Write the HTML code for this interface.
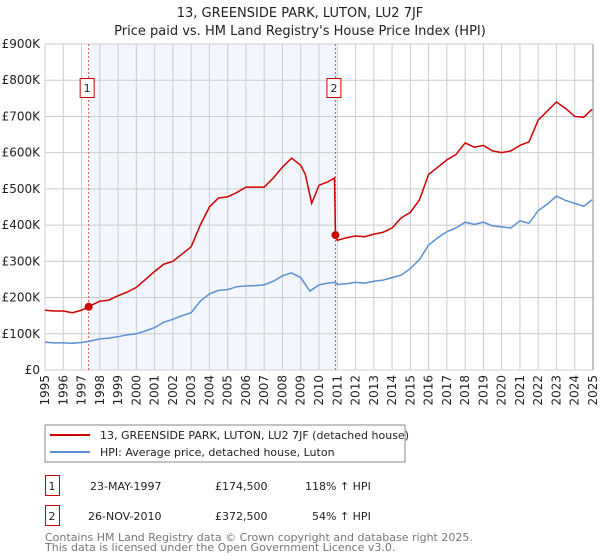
<!DOCTYPE html>
<html><head><meta charset="utf-8"><style>
body{margin:0;background:#fff;font-family:"Liberation Sans","DejaVu Sans",sans-serif;}
svg{display:block}
</style></head><body>
<svg id="chart" width="600" height="560" xmlns="http://www.w3.org/2000/svg" font-family="DejaVu Sans, Liberation Sans, sans-serif">
<text x="300" y="17" text-anchor="middle" font-size="13" fill="#222">13, GREENSIDE PARK, LUTON, LU2 7JF</text>
<text x="300" y="35" text-anchor="middle" font-size="13" fill="#222">Price paid vs. HM Land Registry's House Price Index (HPI)</text>
<g id="plot"></g>
<g>
<rect x="45" y="425" width="360" height="37" fill="#fff" stroke="#888"/>
<line x1="50" y1="435" x2="90" y2="435" stroke="#cc0000" stroke-width="2"/>
<text x="100" y="439" font-size="11" fill="#222">13, GREENSIDE PARK, LUTON, LU2 7JF (detached house)</text>
<line x1="50" y1="452" x2="90" y2="452" stroke="#5b8fd4" stroke-width="2"/>
<text x="100" y="456" font-size="11" fill="#222">HPI: Average price, detached house, Luton</text>
</g>
<g font-size="11" fill="#222">
<rect x="45.5" y="475.5" width="14" height="20" fill="#fff" stroke="#cc0000"/>
<text x="52" y="490" text-anchor="middle">1</text>
<text x="90" y="490">23-MAY-1997</text>
<text x="215" y="490">£174,500</text>
<text x="305" y="490">118% ↑ HPI</text>
<rect x="45.5" y="505.5" width="14" height="20" fill="#fff" stroke="#cc0000"/>
<text x="52" y="520" text-anchor="middle">2</text>
<text x="88" y="520">26-NOV-2010</text>
<text x="215" y="520">£372,500</text>
<text x="312" y="520">54% ↑ HPI</text>
</g>
<text x="45" y="541" font-size="11" fill="#777">Contains HM Land Registry data © Crown copyright and database right 2025.</text>
<text x="45" y="551" font-size="11" fill="#777">This data is licensed under the Open Government Licence v3.0.</text>
</svg>
<script>
const hpiYears=[1995,1995.5,1996,1996.5,1997,1997.5,1998,1998.5,1999,1999.5,2000,2000.5,2001,2001.5,2002,2002.5,2003,2003.5,2004,2004.5,2005,2005.5,2006,2006.5,2007,2007.5,2008,2008.5,2009,2009.5,2010,2010.5,2010.9,2011,2011.5,2012,2012.5,2013,2013.5,2014,2014.5,2015,2015.5,2016,2016.5,2017,2017.5,2018,2018.5,2019,2019.5,2020,2020.5,2021,2021.5,2022,2022.5,2023,2023.5,2024,2024.5,2024.95];
const hpiValues=[77,75,75,74,76,80,86,88,92,97,100,108,117,132,140,150,158,190,210,220,222,230,232,233,235,245,260,268,255,218,235,240,242,236,238,242,240,245,248,255,262,280,305,345,365,382,392,408,402,408,398,395,392,412,405,440,458,480,468,460,452,470];
const redYears=[1995,1995.5,1996,1996.5,1997,1997.39,1997.5,1998,1998.5,1999,1999.5,2000,2000.5,2001,2001.5,2002,2002.5,2003,2003.5,2004,2004.5,2005,2005.5,2006,2006.5,2007,2007.5,2008,2008.5,2009,2009.25,2009.6,2010,2010.5,2010.85,2010.9,2011,2011.5,2012,2012.5,2013,2013.5,2014,2014.5,2015,2015.5,2016,2016.5,2017,2017.5,2018,2018.5,2019,2019.5,2020,2020.5,2021,2021.5,2022,2022.5,2023,2023.5,2024,2024.5,2024.95];
const redValues=[165,163,163,158,165,174.5,178,190,193,205,215,228,250,272,292,300,320,340,400,450,475,478,490,505,505,505,530,560,585,565,540,460,510,520,530,372.5,358,365,370,368,375,380,392,420,435,470,540,560,580,595,627,615,620,605,600,605,620,630,690,715,740,722,700,698,720];
const saleYears=[1997.39,2010.9];
const salePrices=[174.5,372.5];
const saleLabels=["1","2"];
const yTicks=[0,100,200,300,400,500,600,700,800,900];
const yTickLabels=["£0","£100K","£200K","£300K","£400K","£500K","£600K","£700K","£800K","£900K"];

const X0=45,X1=593,Y0=370,Y1=44;
const xs=y=>X0+(y-1995)/30*(X1-X0);
const ys=v=>Y0-v/900*(Y0-Y1);
const NS="http://www.w3.org/2000/svg";
const g=document.getElementById('plot');
function mk(t,a,p){const e=document.createElementNS(NS,t);for(const k in a)e.setAttribute(k,a[k]);(p||g).appendChild(e);return e;}

const shade=mk('rect',{x:xs(saleYears[0]),y:Y1,width:xs(saleYears[1])-xs(saleYears[0]),height:Y0-Y1,fill:'#f3f6fd'});


for(let yr=1995;yr<=2025;yr++){
  const l=mk('line',{x1:xs(yr),x2:xs(yr),y1:Y1,y2:Y0,stroke:'#cccccc','stroke-width':1});
  
  
  const t=mk('text',{x:0,y:0,'font-size':12,fill:'#222','text-anchor':'end',transform:`translate(${xs(yr)+4},${Y0+5}) rotate(-90)`});
  t.textContent=yr;
  
  
}
yTicks.forEach((v,i)=>{
  const l=mk('line',{x1:X0,x2:X1,y1:ys(v),y2:ys(v),stroke:'#cccccc','stroke-width':1});
  
  
  const t=mk('text',{x:X0-5,y:ys(v)+4,'font-size':12,fill:'#222','text-anchor':'end'});
  t.textContent=yTickLabels[i];
  
  
});
const rb=mk('line',{x1:X1,x2:X1,y1:Y1,y2:Y0,stroke:'#888','stroke-width':1});


saleYears.forEach((yr,i)=>{
  const l=mk('line',{x1:xs(yr),x2:xs(yr),y1:Y1,y2:Y0,stroke:'#e05050','stroke-width':1,'stroke-dasharray':'2,2'});
  
  
  const r=mk('rect',{x:xs(yr)-8.5,y:78.5,width:14,height:19,fill:'#fff',stroke:'#cc0000'});
  
  
  const t=mk('text',{x:xs(yr)-1.5,y:92,'font-size':11,fill:'#222','text-anchor':'middle'});
  t.textContent=saleLabels[i];
  
  
});
const hp=mk('polyline',{points:hpiYears.map((y,i)=>xs(y)+','+ys(hpiValues[i])).join(' '),fill:'none',stroke:'#5b8fd4','stroke-width':1.5});


const rp=mk('polyline',{points:redYears.map((y,i)=>xs(y)+','+ys(redValues[i])).join(' '),fill:'none',stroke:'#cc0000','stroke-width':1.5});


saleYears.forEach((yr,i)=>{
  const c=mk('circle',{cx:xs(yr),cy:ys(salePrices[i]),r:4,fill:'#cc0000'});
  
  
});
</script>
</body></html>
